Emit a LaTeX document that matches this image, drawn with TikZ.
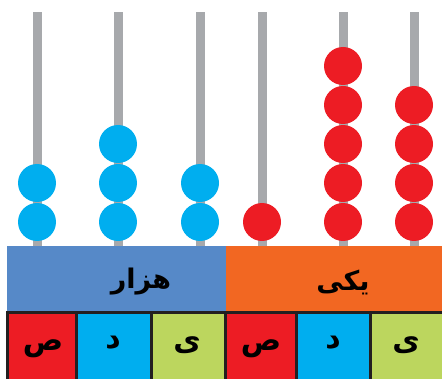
\documentclass[tikz,border=0pt]{standalone}
\usepackage{fontspec}
\usepackage{tikz}
\usepackage{xcolor}
\TeXXeTstate=1
\newfontfamily\farsifont[Script=Arabic]{DejaVu Sans}
\definecolor{rodgray}{HTML}{A7A9AC}
\definecolor{beadblue}{HTML}{00AEEF}
\definecolor{beadred}{HTML}{ED1C24}
\definecolor{bandblue}{HTML}{5689C8}
\definecolor{bandorange}{HTML}{F26722}
\definecolor{cellgreen}{HTML}{BCD65E}
\definecolor{edgeblack}{HTML}{231F20}
\tikzset{
  label/.style={font=\farsifont\bfseries\fontsize{27}{30}\selectfont, anchor=base, inner sep=0pt},
  celllabel/.style={label, font=\farsifont\bfseries\fontsize{30}{34}\selectfont},
}

\begin{document}
\begin{tikzpicture}[x=1pt,y=1pt]
			\useasboundingbox (0,0) rectangle (442,378);
			% rods
			\foreach \x in {37,118,200,262,343,414}
				\fill[rodgray] (\x-4.5,132) rectangle (\x+4.5,366);
			% beads
			\foreach \x/\n in {37/2,118/3,200/2}
				\foreach \k in {1,...,\n}
					\fill[beadblue] (\x,{117+39*\k}) circle (19);
			\foreach \x/\n in {262/1,343/5,414/4}
				\foreach \k in {1,...,\n}
					\fill[beadred] (\x,{117+39*\k}) circle (19);
			% bands
			\fill[bandblue] (7,66) rectangle (226,132);
			\fill[bandorange] (226,66) rectangle (442,132);
			\node[label] (hezar) at (141,90) {\beginR هزار\endR};
			\node[label] (yeki) at (343,88) {\beginR یکی\endR};
			% place cells
			\fill[beadred, draw=edgeblack, line width=3pt] (7,-5) rectangle (76,66);
			\fill[beadblue, draw=edgeblack, line width=3pt] (76,-5) rectangle (151,66);
			\fill[cellgreen, draw=edgeblack, line width=3pt] (151,-5) rectangle (225,66);
			\fill[beadred, draw=edgeblack, line width=3pt] (225,-5) rectangle (296,66);
			\fill[beadblue, draw=edgeblack, line width=3pt] (296,-5) rectangle (370,66);
			\fill[cellgreen, draw=edgeblack, line width=3pt] (370,-5) rectangle (447,66);
			\node[celllabel] (sad1) at (43,28) {\beginR ص\endR};
			\node[celllabel] (dal1) at (113,30) {\beginR د\endR};
			\node[celllabel] (ye1) at (187,28) {\beginR ی\endR};
			\node[celllabel] (sad2) at (261,28) {\beginR ص\endR};
			\node[celllabel] (dal2) at (333,30) {\beginR د\endR};
			\node[celllabel] (ye2) at (406,28) {\beginR ی\endR};
		\end{tikzpicture}
\end{document}
